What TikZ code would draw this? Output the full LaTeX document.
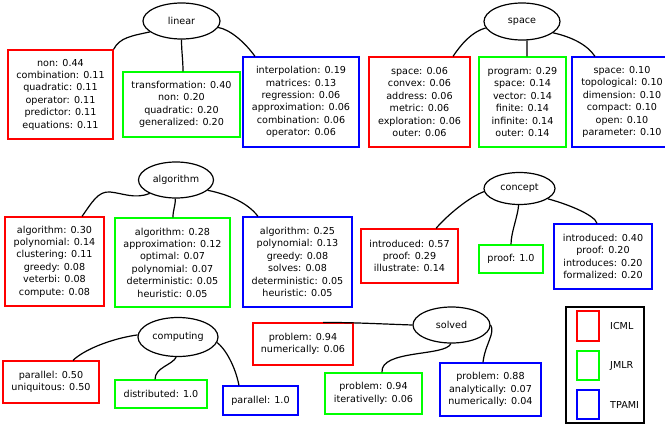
\documentclass[tikz,border=0pt]{standalone}
\usepackage{fontspec}
\setmainfont{DejaVu Sans}
\usetikzlibrary{shapes.geometric}
\definecolor{icml}{RGB}{255,0,0}
\definecolor{jmlr}{RGB}{0,255,0}
\definecolor{tpami}{RGB}{0,0,255}
\tikzset{
  txt/.style={font=\fontsize{9.6}{12.4}\selectfont, align=center, inner sep=0pt},
  topic/.style={txt, ellipse, draw=black, line width=1.2pt},
  wbox/.style={txt, rectangle, draw, line width=1.2pt},
  redbox/.style={wbox, draw=icml},
  greenbox/.style={wbox, draw=jmlr},
  bluebox/.style={wbox, draw=tpami},
  link/.style={draw=black, line width=1.2pt},
  sz/.style 2 args={minimum width=#1pt, minimum height=#2pt},
}
\begin{document}
\begin{tikzpicture}[x=1pt, y=-1pt]
\useasboundingbox (0,0) rectangle (665,426);
\clip (0,0) rectangle (665,426);
\fill[white] (0,0) rectangle (665,426);

% ---------- linear ----------
\node[topic, sz={77}{36}] (linear) at (181.5,21) {linear};
\node[redbox, sz={105}{89}] (lr) at (60.5,94.5)
  {non: 0.44\\combination: 0.11\\quadratic: 0.11\\operator: 0.11\\predictor: 0.11\\equations: 0.11};
\node[greenbox, sz={117}{65}] (lg) at (181.5,104.5)
  {transformation: 0.40\\non: 0.20\\quadratic: 0.20\\generalized: 0.20};
\node[bluebox, sz={116}{90}] (lb) at (301,102)
  {interpolation: 0.19\\matrices: 0.13\\regression: 0.06\\approximation: 0.06\\combination: 0.06\\operator: 0.06};

% ---------- space ----------
\node[topic, sz={76}{37}] (space) at (522,21.5) {space};
\node[redbox, sz={101}{90}] (sr) at (419.5,102)
  {space: 0.06\\convex: 0.06\\address: 0.06\\metric: 0.06\\exploration: 0.06\\outer: 0.06};
\node[greenbox, sz={87}{90}] (sg) at (522.5,102)
  {program: 0.29\\space: 0.14\\vector: 0.14\\finite: 0.14\\infinite: 0.14\\outer: 0.14};
\node[bluebox, sz={100}{90}] (sb) at (622,102)
  {space: 0.10\\topological: 0.10\\dimension: 0.10\\compact: 0.10\\open: 0.10\\parameter: 0.10};

% ---------- algorithm ----------
\node[topic, sz={75}{36}] (algorithm) at (176,180) {algorithm};
\node[redbox, sz={99}{89}] (ar) at (54.5,261.5)
  {algorithm: 0.30\\polynomial: 0.14\\clustering: 0.11\\greedy: 0.08\\veterbi: 0.08\\compute: 0.08};
\node[greenbox, sz={115}{89}] (ag) at (172.5,262.5)
  {algorithm: 0.28\\approximation: 0.12\\optimal: 0.07\\polynomial: 0.07\\deterministic: 0.05\\heuristic: 0.05};
\node[bluebox, sz={109}{90}] (ab) at (297.5,262)
  {algorithm: 0.25\\polynomial: 0.13\\greedy: 0.08\\solves: 0.08\\deterministic: 0.05\\heuristic: 0.05};

% ---------- concept ----------
\node[topic, sz={71}{32}] (concept) at (519.5,188.5) {concept};
\node[redbox, sz={97}{54}] (cr) at (409.5,256)
  {introduced: 0.57\\proof: 0.29\\illustrate: 0.14};
\node[greenbox, sz={64}{28}] (cg) at (511,259) {proof: 1.0};
\node[bluebox, sz={98}{65}] (cb) at (603,256.5)
  {introduced: 0.40\\proof: 0.20\\introduces: 0.20\\formalized: 0.20};

% ---------- computing ----------
\node[topic, sz={80}{39}] (computing) at (178,337) {computing};
\node[redbox, sz={96}{42}] (mr) at (51,382) {parallel: 0.50\\uniquitous: 0.50};
\node[greenbox, sz={92}{28}] (mg) at (161,394) {distributed: 1.0};
\node[bluebox, sz={75}{29}] (mb) at (260.5,400.5) {parallel: 1.0};

% ---------- solved ----------
\node[topic, sz={77}{36}] (solved) at (451.5,325) {solved};
\node[redbox, sz={100}{42}] (vr) at (303,344) {problem: 0.94\\numerically: 0.06};
\node[greenbox, sz={97}{41}] (vg) at (373.5,393.5) {problem: 0.94\\iterativelly: 0.06};
\node[bluebox, sz={101}{53}] (vb) at (490.5,389.5)
  {problem: 0.88\\analytically: 0.07\\numerically: 0.04};

% ---------- connectors ----------
\path[link] (linear.199) .. controls +(-18,4) and +(6,-12) .. (lr.north east);
\path[link] (linear.south) .. controls +(0,12) and +(0,-12) .. ([xshift=1.5pt]lg.north);
\path[link] (linear.350) .. controls +(12,2) and +(-10,-14) .. ([xshift=-46pt]lb.north);

\path[link] (space.190) .. controls +(-14,4) and +(8,-12) .. ([xshift=33.5pt]sr.north);
\path[link] (space.285) .. controls +(0,6) and +(0,-6) .. ([xshift=4.5pt]sg.north);
\path[link] (space.340) .. controls +(18,4) and +(-8,-12) .. ([xshift=-27pt]sb.north);

\path[link] (algorithm.207) .. controls +(-15,6) and +(12,1) .. (110,192)
  .. controls +(-12,-1) and +(10,-14) .. ([xshift=27.5pt]ar.north);
\path[link] (algorithm.268) .. controls +(0,8) and +(0,-8) .. ([xshift=0.5pt]ag.north);
\path[link] (algorithm.342) .. controls +(15,3) and +(-12,-16) .. ([xshift=-39.5pt]ab.north);

\path[link] (concept.185) .. controls +(-14,5) and +(12,-14) .. ([xshift=26.5pt]cr.north);
\path[link] (concept.267) .. controls +(-1,12) and +(0,-12) .. (cg.north);
\path[link] (concept.340) .. controls +(22,6) and +(-2,-8) .. ([xshift=-6pt]cb.north);

\path[link] (computing.177) .. controls +(-28,4) and +(10,-10) .. ([xshift=22pt]mr.north);
\path[link] (computing.265) .. controls +(-4,8) and +(0,-12) .. ([xshift=-6pt]mg.north);
\path[link] (computing.352) .. controls +(8,6) and +(-4,-20) .. ([xshift=-21.5pt]mb.north);

\path[link] (solved.west) .. controls +(-30,-1) and +(30,0) .. ([xshift=20pt]vr.north);
\path[link] (solved.268) .. controls +(-5,13) and +(-2,-23) .. ([xshift=8.5pt]vg.north);
\path[link] (solved.east) .. controls +(5,8) and +(2,-18) .. ([xshift=-7.5pt]vb.north);

% ---------- legend ----------
\node[draw=black, line width=1.2pt, sz={78}{116}, inner sep=0pt] (legend) at (605,365) {};
\node[redbox, sz={22}{30}] (kicml) at (588,326) {};
\node[greenbox, sz={22}{29}] (kjmlr) at (588,365.5) {};
\node[bluebox, sz={22}{29}] (ktpami) at (588,404.5) {};
\node[txt, anchor=west] (licml) at (610,326) {ICML};
\node[txt, anchor=west] (ljmlr) at (610,365.5) {JMLR};
\node[txt, anchor=west] (ltpami) at (610,404.5) {TPAMI};
\end{tikzpicture}
\end{document}
